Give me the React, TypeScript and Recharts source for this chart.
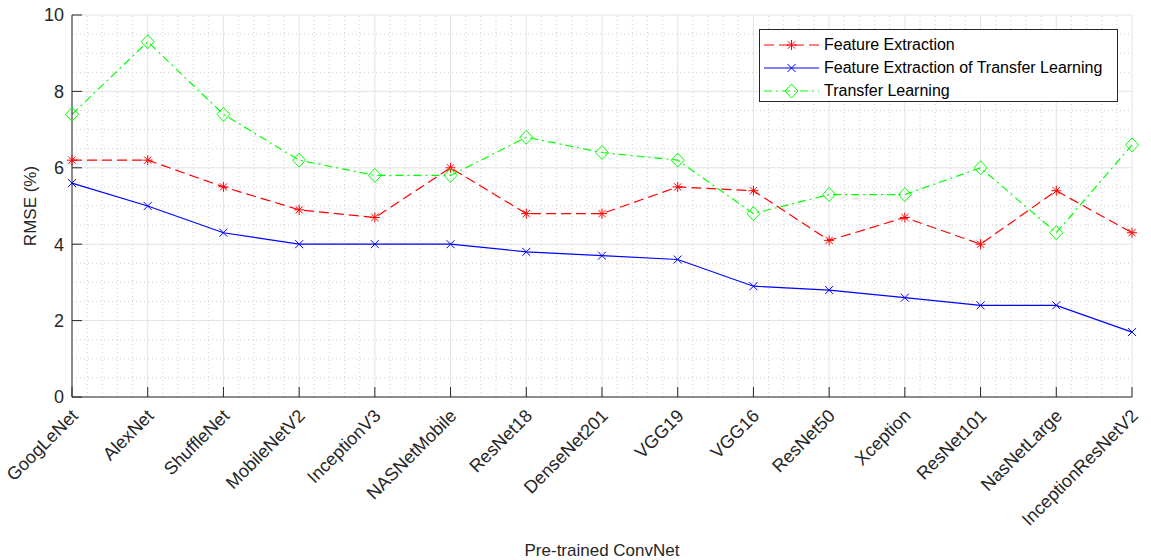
import React from "react";
import {
  LineChart,
  Line,
  XAxis,
  YAxis,
  CartesianGrid,
  ReferenceLine,
  Legend,
} from "recharts";

const models = [
  "GoogLeNet",
  "AlexNet",
  "ShuffleNet",
  "MobileNetV2",
  "InceptionV3",
  "NASNetMobile",
  "ResNet18",
  "DenseNet201",
  "VGG19",
  "VGG16",
  "ResNet50",
  "Xception",
  "ResNet101",
  "NasNetLarge",
  "InceptionResNetV2",
];

const featureExtraction = [6.2, 6.2, 5.5, 4.9, 4.7, 6.0, 4.8, 4.8, 5.5, 5.4, 4.1, 4.7, 4.0, 5.4, 4.3];
const featureExtractionTL = [5.6, 5.0, 4.3, 4.0, 4.0, 4.0, 3.8, 3.7, 3.6, 2.9, 2.8, 2.6, 2.4, 2.4, 1.7];
const transferLearning = [7.4, 9.3, 7.4, 6.2, 5.8, 5.8, 6.8, 6.4, 6.2, 4.8, 5.3, 5.3, 6.0, 4.3, 6.6];

const yTicks = [0, 2, 4, 6, 8, 10];
const xTicks = models.map((_, i) => i);

// dotted minor grid: 5 steps between categories, 4 steps between y majors
const minorX: number[] = [];
for (let i = 0; i < models.length - 1; i++) {
  for (let k = 1; k < 5; k++) minorX.push(i + k / 5);
}
const minorY: number[] = [];
for (let v = 0.5; v < 10; v += 0.5) {
  if (v % 2 !== 0) minorY.push(v);
}

const data = models.map((name, i) => ({
  idx: i,
  name,
  fe: featureExtraction[i],
  fetl: featureExtractionTL[i],
  tl: transferLearning[i],
}));

const INK = "#262626";
const FONT = '"Liberation Sans", Arial, sans-serif';

const Asterisk = ({ cx, cy, color }: any) => (
  <g stroke={color} strokeWidth={1}>
    <line x1={cx - 5} y1={cy} x2={cx + 5} y2={cy} />
    <line x1={cx} y1={cy - 5} x2={cx} y2={cy + 5} />
    <line x1={cx - 3.6} y1={cy - 3.6} x2={cx + 3.6} y2={cy + 3.6} />
    <line x1={cx - 3.6} y1={cy + 3.6} x2={cx + 3.6} y2={cy - 3.6} />
  </g>
);

const Cross = ({ cx, cy, color }: any) => (
  <g stroke={color} strokeWidth={1}>
    <line x1={cx - 4} y1={cy - 4} x2={cx + 4} y2={cy + 4} />
    <line x1={cx - 4} y1={cy + 4} x2={cx + 4} y2={cy - 4} />
  </g>
);

const Diamond = ({ cx, cy, color }: any) => (
  <path
    d={`M${cx},${cy - 7} L${cx + 6.5},${cy} L${cx},${cy + 7} L${cx - 6.5},${cy} Z`}
    fill="none"
    stroke={color}
    strokeWidth={1}
  />
);

const series = [
  { key: "fe", name: "Feature Extraction", color: "#ff0000", dash: "10 5", Marker: Asterisk },
  { key: "fetl", name: "Feature Extraction of Transfer Learning", color: "#0000ff", dash: undefined, Marker: Cross },
  { key: "tl", name: "Transfer Learning", color: "#00ff00", dash: "8 4 2 4", Marker: Diamond },
];

const ModelTick = ({ x, y, payload }: any) => {
  const ax = x + 7;
  const ay = y + 12;
  return (
    <text
      x={ax}
      y={ay}
      transform={`rotate(-45, ${ax}, ${ay})`}
      textAnchor="end"
      fontSize={18}
      fill={INK}
      fontFamily={FONT}
    >
      {models[payload.value]}
    </text>
  );
};

const LegendBox = () => (
  <div
    style={{
      position: "relative",
      width: 357,
      height: 71,
      background: "#fff",
      border: `1px solid ${INK}`,
      fontFamily: FONT,
      fontSize: 16,
      color: "#000",
    }}
  >
    {series.map((s, i) => (
      <div
        key={s.key}
        style={{
          position: "absolute",
          left: 0,
          top: 4 + i * 23,
          height: 22,
          display: "flex",
          alignItems: "center",
          whiteSpace: "nowrap",
        }}
      >
        <svg width={64} height={22} style={{ display: "block" }}>
          <line x1={4} y1={11} x2={59} y2={11} stroke={s.color} strokeWidth={1} strokeDasharray={s.dash} />
          <s.Marker cx={31.5} cy={11} color={s.color} />
        </svg>
        <span>{s.name}</span>
      </div>
    ))}
  </div>
);

export default function App() {
  return (
    <div style={{ position: "absolute", left: 0, top: 0, background: "#fff", fontFamily: FONT }}>
      <LineChart
        width={1151}
        height={560}
        data={data}
        margin={{ top: 15, right: 19, left: 0, bottom: 0 }}
      >
        <CartesianGrid stroke="#e3e3e3" strokeWidth={1} />
        {minorX.map((v) => (
          <ReferenceLine key={`mx${v}`} x={v} stroke="#cfcfcf" strokeDasharray="1 3" />
        ))}
        {minorY.map((v) => (
          <ReferenceLine key={`my${v}`} y={v} stroke="#cfcfcf" strokeDasharray="1 3" />
        ))}
        <XAxis
          dataKey="idx"
          type="number"
          domain={[0, 14]}
          ticks={xTicks}
          interval={0}
          height={163}
          tick={<ModelTick />}
          tickSize={-10}
          tickMargin={18}
          stroke={INK}
          allowDecimals={false}
          label={{
            value: "Pre-trained ConvNet",
            position: "insideBottom",
            offset: 4,
            fill: INK,
            fontSize: 17,
            fontFamily: FONT,
          }}
        />
        <XAxis
          xAxisId="top"
          orientation="top"
          type="number"
          domain={[0, 14]}
          ticks={xTicks}
          height={0}
          mirror
          tick={false}
          tickSize={10}
          stroke={INK}
        />
        <YAxis
          domain={[0, 10]}
          ticks={yTicks}
          width={72}
          tickSize={-10}
          tickMargin={18}
          stroke={INK}
          tick={{ fontSize: 18, fill: INK, fontFamily: FONT }}
          label={{
            value: "RMSE (%)",
            angle: -90,
            position: "insideLeft",
            offset: 30,
            fill: INK,
            fontSize: 17,
            fontFamily: FONT,
            style: { textAnchor: "middle" },
          }}
        />
        <YAxis
          yAxisId="right"
          orientation="right"
          domain={[0, 10]}
          ticks={yTicks}
          width={0}
          mirror
          tick={false}
          tickSize={10}
          stroke={INK}
        />
        {series.map((s) => (
          <Line
            key={s.key}
            dataKey={s.key}
            name={s.name}
            type="linear"
            stroke={s.color}
            strokeWidth={1.2}
            strokeDasharray={s.dash}
            isAnimationActive={false}
            dot={(p: any) => <s.Marker key={`${s.key}${p.index}`} cx={p.cx} cy={p.cy} color={s.color} />}
            activeDot={false}
          />
        ))}
        <Legend
          layout="horizontal"
          verticalAlign="middle"
          align="center"
          content={() => <LegendBox />}
          wrapperStyle={{ left: 759, top: 29, width: 359, height: 73 }}
        />
      </LineChart>
    </div>
  );
}
